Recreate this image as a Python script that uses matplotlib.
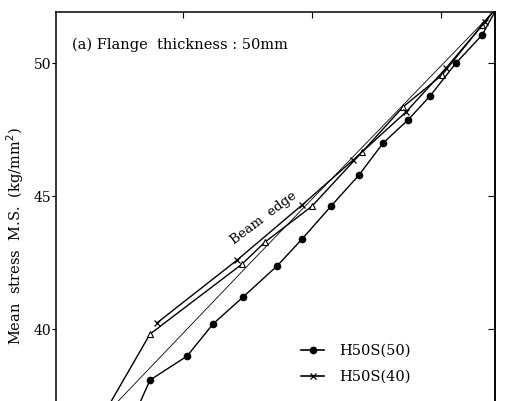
import matplotlib
matplotlib.use("Agg")
import matplotlib.pyplot as plt
from matplotlib.lines import Line2D

plt.rcParams['font.family'] = ['DejaVu Serif', 'Liberation Serif']

# Data (x in arbitrary units along the horizontal axis, y = mean stress kg/mm^2)
x_h50s50 = [80, 94, 131, 157, 187, 221, 246, 275, 303, 327, 352, 374, 400, 426, 440]
y_h50s50 = [36.9, 38.08, 38.98, 40.19, 41.20, 42.37, 43.38, 44.62, 45.79, 46.99, 47.86, 48.76, 50.00, 51.05, 52.0]

x_h50s40 = [101, 181, 246, 297, 350, 390, 429, 440]
y_h50s40 = [40.23, 42.59, 44.66, 46.35, 48.16, 49.81, 51.54, 52.07]

x_tri = [49, 94, 186, 209, 256, 306, 347, 386, 426, 440]
y_tri = [36.88, 39.81, 42.44, 43.27, 44.62, 46.65, 48.35, 49.55, 51.43, 52.07]

x_edge = [49, 199, 441]
y_edge = [36.77, 42.67, 52.07]

yticks = [40, 45, 50]
ytick_labels = ["40", "45", "50"]
top_ticks = [127, 256, 385]
legend_labels = ["H50S(50)", "H50S(40)"]

W, H = 505, 401
fig = plt.figure(figsize=(W / 100, H / 100), dpi=100)
left_px, right_px, top_px, bottom_px = 56, 495, 12, 462
ax = fig.add_axes([left_px / W, 1 - bottom_px / H, (right_px - left_px) / W, (bottom_px - top_px) / H])

ax.plot(x_edge, y_edge, color='black', lw=0.6)
ax.plot(x_tri, y_tri, color='black', lw=1.0, marker='^', ms=4.5, mfc='white', mec='black', mew=0.8)
ax.plot(x_h50s40, y_h50s40, color='black', lw=1.0, marker='x', ms=4, mew=0.9)
ax.plot(x_h50s50, y_h50s50, color='black', lw=1.0, marker='o', ms=4.5)

ax.set_xlim(0, 439)
ax.set_ylim(35.0, 51.92)

ax.set_yticks(yticks)
ax.set_yticklabels(ytick_labels, fontsize=10)
ax.tick_params(axis='y', which='both', direction='out', length=3, width=0.8, pad=0.5)
ax.tick_params(axis='x', which='both', bottom=False, labelbottom=False, top=True,
               direction='in', length=4, width=0.8)
ax.set_xticks(top_ticks)
for s in ax.spines.values():
    s.set_linewidth(1.1)

sec = ax.secondary_yaxis('right')
sec.set_yticks(yticks)
sec.tick_params(direction='in', length=5, width=0.8, labelright=False)
sec.spines['right'].set_linewidth(1.1)

ax.set_ylabel("Mean  stress  M.S.  (kg/mm$^2$)", fontsize=10.5, labelpad=8)
ax.yaxis.set_label_coords(-0.068, (H - 236 - (H - bottom_px)) / (bottom_px - top_px))

fig.text(72 / W, 1 - 45 / H, "(a) Flange  thickness : 50mm", fontsize=10.5, va='center', ha='left')

ax.text(264 - 56, 50 - (218 - 63) / 26.6, "Beam  edge", fontsize=9.5, rotation=37,
        ha='center', va='center', rotation_mode='anchor')

handles = [Line2D([], [], color='black', lw=1.2, marker='o', ms=4.5),
           Line2D([], [], color='black', lw=1.2, marker='x', ms=4, mew=0.9)]
fig.legend(handles, legend_labels, loc='upper left', bbox_to_anchor=(301 / W, 1 - 344 / H),
           frameon=False, fontsize=10.5, handlelength=1.6, handletextpad=1.0,
           labelspacing=0.8, numpoints=1, borderpad=0, borderaxespad=0)

fig.savefig("out.png", dpi=100)
